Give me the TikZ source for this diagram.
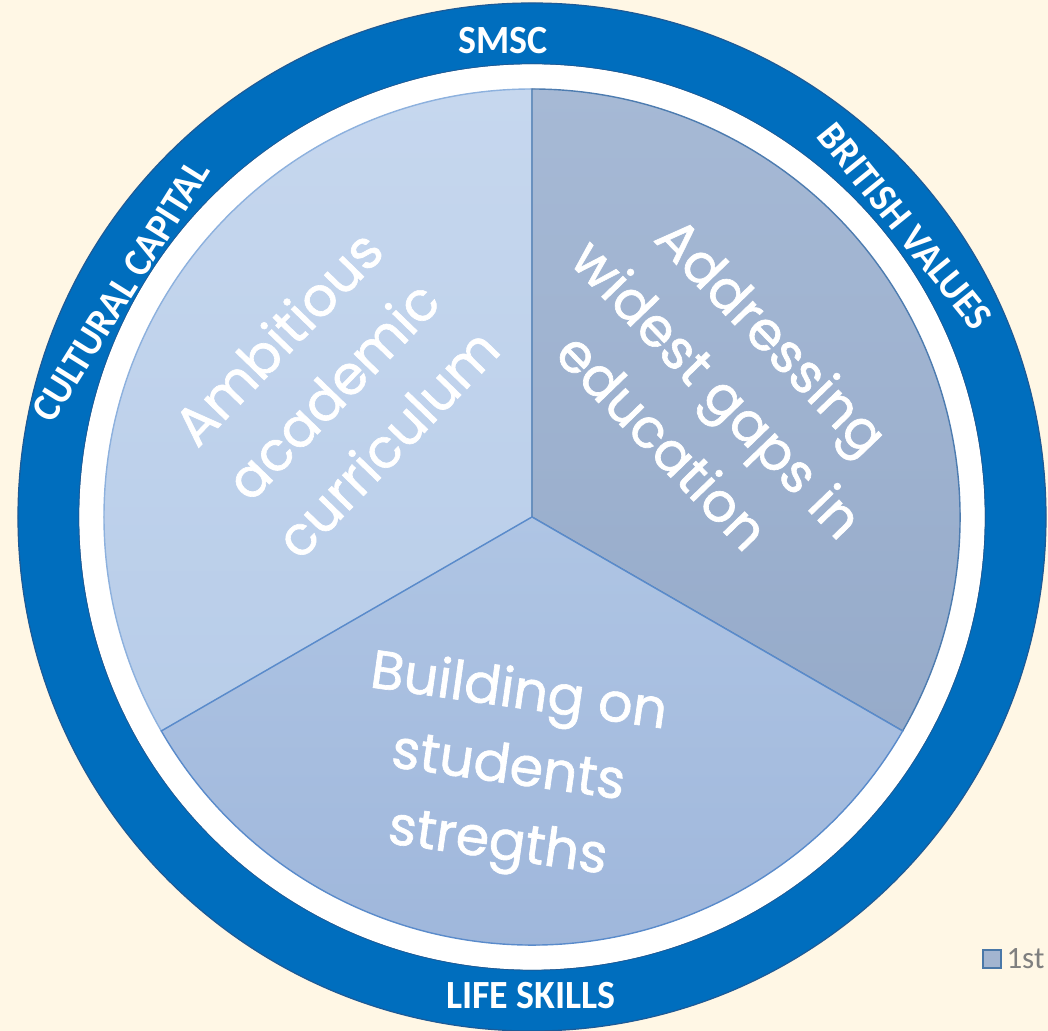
\documentclass[tikz,border=0pt]{standalone}
\usepackage{fontspec}
\setmainfont{Carlito}
\newfontfamily\handfont[FakeBold=1.2]{Poppins}
\newfontfamily\ringfont[FakeStretch=0.95]{Carlito}
\usetikzlibrary{positioning}

\definecolor{pagecream}{HTML}{FFF7E5}
\definecolor{ringblue}{HTML}{006EBE}
\definecolor{ringedge}{HTML}{1D5A96}
\definecolor{curtop}{HTML}{C6D7EE}
\definecolor{curbot}{HTML}{B8CDE9}
\definecolor{curedge}{HTML}{8DB1DE}
\definecolor{gaptop}{HTML}{A6B9D5}
\definecolor{gapbot}{HTML}{96ABCA}
\definecolor{gapedge}{HTML}{4D7CB0}
\definecolor{buildtop}{HTML}{AFC5E4}
\definecolor{buildbot}{HTML}{9DB5DA}
\definecolor{buildedge}{HTML}{5A8BCB}
\definecolor{keyfill}{HTML}{A3B5D0}
\definecolor{keyedge}{HTML}{4A78A8}
\definecolor{keytextgray}{HTML}{7F7F7F}

\begin{document}
\begin{tikzpicture}[
    x=0.5pt, y=0.5pt,
    every node/.style={inner sep=0pt, outer sep=0pt},
    ringlabel/.style={font=\ringfont\bfseries\fontsize{20}{20}\selectfont, text=white},
    slicetext/.style={font=\handfont\fontsize{27}{38}\selectfont, text=white, align=center},
    legendbox/.style={draw=keyedge, fill=keyfill, line width=1pt, minimum size=9pt},
    legendtext/.style={font=\fontsize{15.5}{15.5}\selectfont, text=keytextgray}
]

\useasboundingbox (-532,-514) rectangle (516,517);
\fill[pagecream] (-532,-514) rectangle (516,517);

\fill[ringblue, even odd rule] (0,0) circle (514) (0,0) circle (453);
\draw[ringedge, line width=0.6pt] (0,0) circle (514);
\draw[ringedge, line width=0.6pt] (0,0) circle (453);
\fill[white] (0,0) circle (452.6);

\filldraw[top color=curtop, bottom color=curbot, draw=curedge, line width=0.7pt]
    (0,0) -- (90:428) arc (90:210:428) -- cycle;
\filldraw[top color=gaptop, bottom color=gapbot, draw=gapedge, line width=0.7pt]
    (0,0) -- (-30:428) arc (-30:90:428) -- cycle;
\filldraw[top color=buildtop, bottom color=buildbot, draw=buildedge, line width=0.7pt]
    (0,0) -- (210:428) arc (210:330:428) -- cycle;

\node[slicetext, rotate=46] (ambitious) at (-200,127) {Ambitious\\academic\\curriculum};
\node[slicetext, rotate=-46] (addressing) at (186,129) {Addressing\\widest gaps in\\education};
\node[slicetext, rotate=-8] (building) at (-24,-253) {Building on\\students\\stregths};

\node[ringlabel] (smsc) at (-29,476) {SMSC};
\node[ringlabel] (lifeskills) at (-1,-479) {LIFE SKILLS};
\node[ringlabel, rotate=58] (cultural) at (-411,226) {CULTURAL CAPITAL};
\node[ringlabel, rotate=-51] (british) at (373,291) {BRITISH VALUES};

\node[legendbox] (key) at (459.5,-442) {};
\node[legendtext, right=3pt of key] (keylabel) {1st};

\end{tikzpicture}
\end{document}
